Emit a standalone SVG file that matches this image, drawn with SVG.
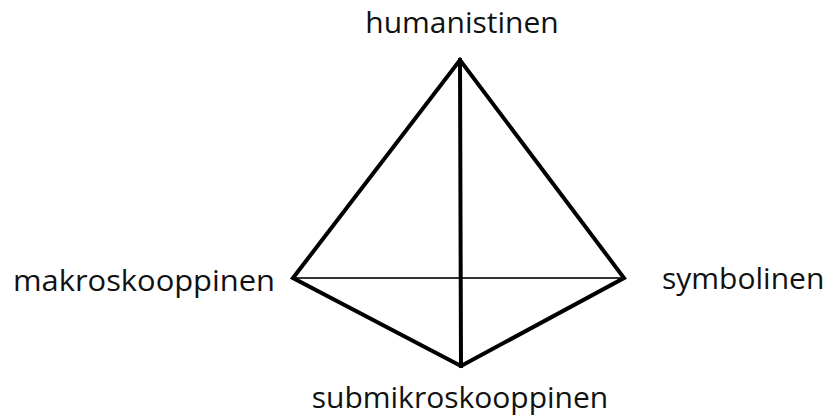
<svg xmlns="http://www.w3.org/2000/svg" width="831" height="419" viewBox="0 0 831 419">
<style>
.lbl{font-family:"Open Sans","Noto Sans","Liberation Sans",sans-serif;font-size:30px;fill:#111;}
.edge{stroke:#000;stroke-width:4;fill:none;stroke-linejoin:miter;stroke-linecap:square;}
.thin{stroke:#333;stroke-width:2;fill:none;}
</style>
<rect width="831" height="419" fill="#fff"/>
<g id="connectors">
<line class="thin" x1="293" y1="278" x2="624" y2="278"/>
<path class="edge" d="M293 278 L460 60 L624 278 L461 366 Z"/>
<line class="edge" x1="460" y1="60" x2="461" y2="366"/>
</g>
<g id="humanistinen"><text class="lbl" x="462" y="33" text-anchor="middle">humanistinen</text></g>
<g id="makroskooppinen"><text class="lbl" x="13" y="291" textLength="262" lengthAdjust="spacingAndGlyphs">makroskooppinen</text></g>
<g id="symbolinen"><text class="lbl" x="662" y="289">symbolinen</text></g>
<g id="submikroskooppinen"><text class="lbl" x="460" y="408" text-anchor="middle">submikroskooppinen</text></g>
</svg>
